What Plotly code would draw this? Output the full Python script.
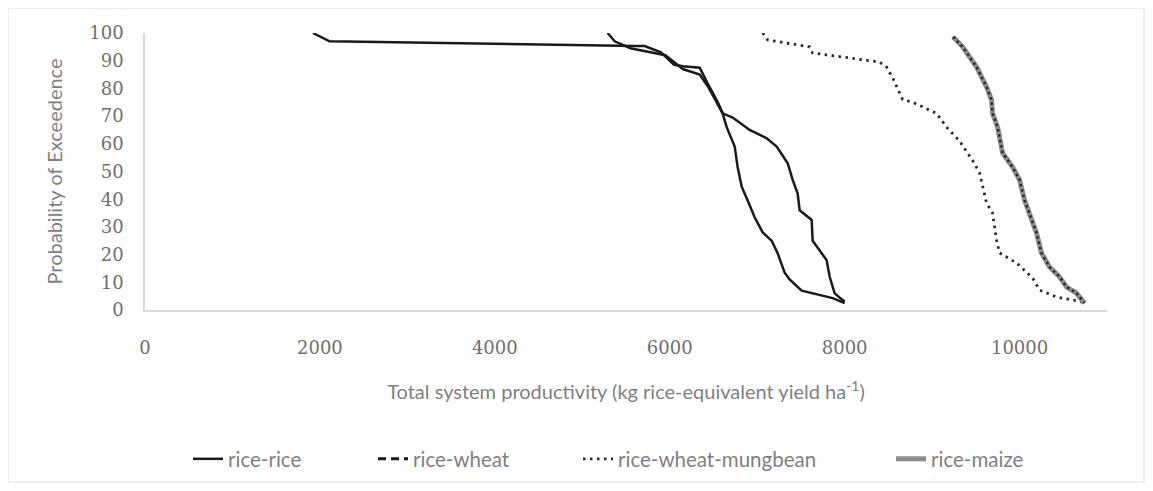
import plotly.graph_objects as go

# ---- data ----
rice_rice_x = [1920, 2110, 5600, 5714, 5900, 6050, 6150, 6343, 6430, 6550, 6605, 6720, 6914, 7109, 7223,
               7349, 7406, 7463, 7486, 7623, 7634, 7737, 7794, 7829, 7886, 8000]
rice_rice_y = [100, 97, 95.3, 95.3, 93, 88.5, 88, 87.5, 82, 75, 71, 69.5, 65, 62, 59,
               53, 47, 42, 36, 32.5, 25, 20.5, 18, 12, 6, 3]

rice_wheat_x = [5290, 5370, 5550, 5700, 5950, 6150, 6343, 6450, 6550, 6605, 6651, 6743, 6777, 6823,
                6891, 6971, 7063, 7166, 7234, 7314, 7371, 7509, 7863, 8000]
rice_wheat_y = [100, 97, 94.5, 93.5, 92, 87, 85, 80, 74, 71, 66, 59, 51.5, 44.5,
                39.5, 33.5, 28, 25, 20.5, 13.5, 11, 7, 4.3, 2.5]

rwm_x = [7063, 7120, 7600, 7634, 8057, 8400, 8480, 8549, 8663, 8777, 9051, 9166, 9314, 9463, 9543,
         9577, 9623, 9691, 9737, 9771, 9966, 10149, 10229, 10423, 10720]
rwm_y = [100, 97.5, 95, 92.8, 91, 89.5, 87.7, 83.8, 76, 75, 71, 66, 61, 54, 49.5,
         44.4, 38.6, 35, 25.3, 20.6, 17, 11.6, 7.2, 4.7, 2.9]

rice_maize_x = [9240, 9349, 9509, 9623, 9680, 9691, 9749, 9806, 9920, 10000, 10057, 10137, 10194,
                10251, 10343, 10457, 10537, 10651, 10743]
rice_maize_y = [98.6, 95, 87.7, 80.5, 75.8, 71, 66, 56.7, 51.6, 47, 39.7, 32.5, 27.8,
                20.6, 15.5, 12, 8.3, 6.1, 2.5]

x_ticks = [0, 2000, 4000, 6000, 8000, 10000]
y_ticks = [0, 10, 20, 30, 40, 50, 60, 70, 80, 90, 100]

# ---- figure ----
BLACK = "#1a1a1a"
GRAY_TXT = "#7f7f7f"

fig = go.Figure()

fig.add_trace(go.Scatter(x=rice_rice_x, y=rice_rice_y, mode="lines", name="rice-rice",
                         line=dict(color=BLACK, width=2.5), legend="legend"))
# rice-wheat: the many short segments render as a continuous line in the original
fig.add_trace(go.Scatter(x=rice_wheat_x, y=rice_wheat_y, mode="lines", name="rice-wheat",
                         line=dict(color=BLACK, width=2.5), showlegend=False, legendgroup="rw"))
fig.add_trace(go.Scatter(x=[None], y=[None], mode="lines", name="rice-wheat",
                         line=dict(color=BLACK, width=3, dash="8px,5px"), legend="legend2",
                         legendgroup="rw"))
fig.add_trace(go.Scatter(x=rwm_x, y=rwm_y, mode="lines", name="rice-wheat-mungbean",
                         line=dict(color="#2a2a2a", width=2.8, dash="2.5px,4.5px"), legend="legend3"))
fig.add_trace(go.Scatter(x=rice_maize_x, y=rice_maize_y, mode="lines", name="rice-maize",
                         line=dict(color="#8c8c8c", width=5), legend="legend4", legendgroup="rm"))
fig.add_trace(go.Scatter(x=rice_maize_x, y=rice_maize_y, mode="lines", name="rice-maize",
                         line=dict(color="#2a2a2a", width=2.5, dash="2.5px,3px"), showlegend=False,
                         legendgroup="rm"))

# page body has an 8px margin; figure is sized to fit the 1153x491 window exactly
OFF = 8
FIG_W, FIG_H = 1153 - 2 * OFF, 491 - 2 * OFF
# plot-area edges in window pixels (as measured on the reference)
L_PX, R_PX, T_PX, B_PX = 145, 1107, 33, 310
PW, PH = R_PX - L_PX, B_PX - T_PX


def px_x(p):
    return (p - L_PX) / PW


def px_y(p):
    return (B_PX - p) / PH


def cont_x(p):
    return (p - OFF) / FIG_W


def cont_y(p):
    return 1 - (p - OFF) / FIG_H


leg_font = dict(family="Lato", size=20.5, color=GRAY_TXT)
leg_common = dict(orientation="h", yref="container", xref="container", yanchor="middle",
                  y=cont_y(459), xanchor="left",
                  bgcolor="rgba(0,0,0,0)", font=leg_font, itemwidth=30)

fig.update_layout(
    width=FIG_W, height=FIG_H,
    margin=dict(l=L_PX - OFF, r=(FIG_W + OFF) - R_PX, t=T_PX - OFF, b=(FIG_H + OFF) - B_PX, pad=0,
                autoexpand=False),
    paper_bgcolor="white", plot_bgcolor="white",
    legend=dict(x=cont_x(227 - 39), **leg_common),
    legend2=dict(x=cont_x(412 - 39), **leg_common),
    legend3=dict(x=cont_x(617 - 39), **leg_common),
    legend4=dict(x=cont_x(930 - 39), **leg_common),
    xaxis=dict(
        range=[0, 11000], tickvals=x_ticks, ticktext=[str(v) for v in x_ticks],
        showgrid=False, zeroline=False, showline=True, linecolor="#d9d9d9", linewidth=1.5,
        ticks="", ticklabelstandoff=21, automargin=False,
        tickfont=dict(family="DejaVu Serif", size=18, color="#6f6f6f"),
        title=dict(text="Total system productivity (kg rice-equivalent yield ha<sup>-1</sup>)",
                   font=dict(family="Lato", size=20, color=GRAY_TXT), standoff=28),
    ),
    yaxis=dict(
        range=[0, 100], tickvals=y_ticks, ticktext=[str(v) for v in y_ticks],
        showgrid=False, zeroline=False, showline=True, linecolor="#d9d9d9", linewidth=1.5,
        ticks="", ticklabelstandoff=16, automargin=False,
        tickfont=dict(family="DejaVu Serif", size=18, color="#6f6f6f"),
        title=dict(text="Probability of Exceedence",
                   font=dict(family="Lato", size=20, color=GRAY_TXT), standoff=21),
    ),
    shapes=[dict(type="rect", xref="paper", yref="paper",
                 x0=px_x(OFF), x1=px_x(1153 - OFF - 1), y0=px_y(491 - OFF - 1), y1=px_y(OFF),
                 line=dict(color="#d9d9d9", width=1), fillcolor="rgba(0,0,0,0)", layer="below")],
)

fig.write_html("out.html")
